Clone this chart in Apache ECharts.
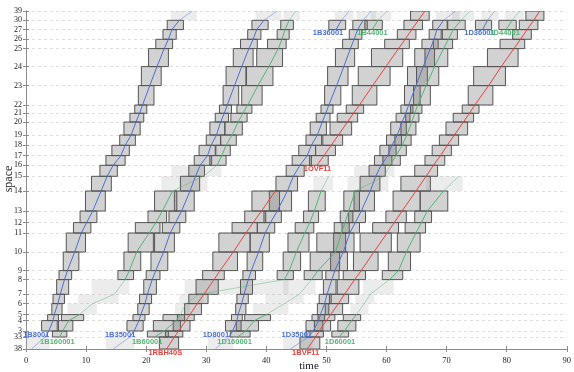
<!DOCTYPE html>
<html>
<head>
<meta charset="utf-8">
<title>Blocking time diagram</title>
<script src="https://cdn.jsdelivr.net/npm/echarts@6.0.0/dist/echarts.min.js"></script>
<style>
  html, body { margin: 0; padding: 0; background: #fff; }
  #chart { width: 574px; height: 372px; }
</style>
</head>
<body>
<div id="chart"></div>
<script>
// stations bottom to top, and where they sit on the space axis
const stations = ['38', '33', '3', '4', '5', '6', '7', '8', '9', '10', '11', '12', '13', '14', '15',
  '16', '17', '18', '19', '20', '21', '22', '23', '24', '25', '26', '27', '30', '39'];
const stationPos = [0, 12, 18, 28.4, 34.4, 45.4, 54.7, 69.4, 78.4, 97, 116, 126.4, 138, 158, 172.7,
  183.7, 193.4, 203.7, 214, 227, 235.7, 244, 263.4, 282.4, 300.4, 309.7, 319.4, 328.7, 338];

// passing times at each station, starting from the train's first station
const t1B8001 = [0.9, 3.2, 3.8, 4.5, 4.7, 5.3, 5.7, 6.4, 6.9, 8.1, 9.2, 10.1, 11.1, 12.5, 13.5,
  14.5, 15.8, 16.5, 17.5, 18.3, 18.9, 19.4, 20.6, 21.8, 23.0, 23.7, 24.3, 25.5, 27.7];
const t1B35001 = [14.5, 17.3, 18.0, 18.8, 19.1, 19.8, 20.2, 21.0, 21.6, 22.9, 24.0, 24.9, 25.9, 27.3, 28.2,
  29.0, 30.2, 30.8, 31.7, 32.4, 33.0, 33.5, 34.7, 35.9, 37.1, 37.8, 38.4, 39.6, 41.8];
const t1D8001 = [31.5, 33.8, 34.4, 35.1, 35.3, 35.9, 36.3, 37.0, 37.5, 38.7, 39.8, 40.7, 41.8, 43.5, 44.5,
  45.6, 46.8, 47.5, 48.5, 49.3, 49.9, 50.4, 51.7, 52.9, 54.0, 54.6, 55.2, 56.1, 57.5];
const t1D35001 = [44.0, 47.0, 47.8, 48.7, 49.0, 49.7, 50.1, 50.9, 51.4, 52.8, 53.9, 54.8, 55.8, 57.3, 58.2,
  59.1, 60.2, 60.9, 61.8, 62.6, 63.2, 63.7, 64.9, 66.1, 67.3, 67.9, 68.4, 69.5, 71.5];
const t1B160001 = [5.6, 6.1, 7.1, 8.9, 11.1, 14.7, 16.5, 17.2, 18.4, 20.5, 21.6, 22.7, 24.4, 29.5,
  31.8, 32.6, 33.3, 34.3, 35.3, 36.1, 36.9, 38.6, 40.4, 42.0, 42.6, 43.1, 43.8, 44.9];
const t1B60001 = [21.4, 23.0, 25.0, 25.7, 26.6, 28.8, 43.0, 43.8, 45.0, 46.4, 47.2, 48.0, 49.1, 50.4];
const t1D160001 = [35.2, 36.6, 38.0, 40.0, 43.0, 45.5, 47.5, 48.6, 51.5, 52.5, 53.1, 53.7, 54.8, 59.6,
  60.6, 61.6, 62.6, 63.4, 64.2, 64.7, 65.2, 66.6, 68.0, 69.5, 70.3, 71.1, 72.4, 73.9];
const t1D60001 = [52.1, 53.0, 54.2, 55.0, 56.3, 57.3, 60.5, 62.0, 63.3, 64.9, 65.8, 66.8, 69.5, 72.0];
const t1RBH40S = [23.4, 24.7, 25.4, 26.6, 27.3, 28.5, 29.6, 31.3, 32.3, 34.5, 36.6, 37.8, 39.2, 41.5];
const t1OVF11 = [48.4, 49.6, 50.8, 52.0, 53.5, 54.5, 55.5, 57.7, 59.9, 62.0, 63.1, 64.2, 65.3, 66.4];
const t1BVF11 = [46.8, 48.2, 48.8, 50.0, 50.7, 52.0, 53.0, 54.7, 55.8, 57.9, 60.1, 61.3, 62.6, 64.9, 66.6,
  67.8, 69.0, 70.1, 71.3, 72.8, 73.8, 74.7, 77.0, 79.1, 81.2, 82.3, 83.4, 84.5, 85.5];
const t1B36001 = [51.6, 52.5, 53.8];
const t1B44001 = [57.6, 58.6, 60.1];
const t1D36001 = [76.0, 76.8, 78.0];
const t1D44001 = [79.9, 80.9, 82.2];

const trainKinds = ['blue', 'blue', 'blue', 'blue', 'green', 'green', 'green', 'green',
  'red', 'red', 'red', 'blue', 'green', 'blue', 'green'];
const trainFirst = ['38', '38', '38', '38', '33', '33', '33', '33', '38', '16', '38', '27', '27', '27', '27'];
const trainTimes = [t1B8001, t1B35001, t1D8001, t1D35001, t1B160001, t1B60001, t1D160001, t1D60001,
  t1RBH40S, t1OVF11, t1BVF11, t1B36001, t1B44001, t1D36001, t1D44001];

// train name labels: right edge time and space position
const labelNames = ['1B8001', '1B160001', '1B35001', '1B60001', '1RBH40S', '1D8001', '1D160001',
  '1D35001', '1D60001', '1BVF11', '1OVF11', '1B36001', '1B44001', '1D36001', '1D44001'];
const labelKinds = ['blue', 'green', 'blue', 'green', 'red', 'blue', 'green', 'blue', 'green', 'red',
  'red', 'blue', 'green', 'blue', 'green'];
const labelTimes = [3.9, 8.1, 18.2, 22.7, 26.0, 33.8, 37.6, 47.6, 54.8, 48.8, 50.8, 52.8, 60.2, 78.0, 82.2];
const labelPos = [13.7, 6.7, 13.7, 6.7, -4, 13.7, 6.7, 13.7, 6.7, -4, 179.7, 315.7, 315.7, 315.7, 315.7];

const kinds = ['blue', 'green', 'red'];
const kindColor = ['#4a6fce', '#52b574', '#e4433f'];
// blocks (named by their lower station) drawn as light, unsignalled sections
const lightFrom = { blue: ['38', '30'], green: ['5', '6', '7', '14', '15', '30'], red: [] };
// blocks with no occupation box at all
const noBox = { blue: ['33'], green: [], red: [] };
const setupTime = 0.2, clearTime = 0.7, firstLead = 1.0;

const rectsDark = [];
const rectsLight = [];
const segs = [];
trainTimes.forEach((t, k) => {
  const kind = trainKinds[k];
  const s0 = stations.indexOf(trainFirst[k]);
  for (let i = 0; i + 1 < t.length; i++) {
    const lo = s0 + i;
    const light = lightFrom[kind].includes(stations[lo]) ? 1 : 0;
    segs.push([t[i], stationPos[lo], t[i + 1], stationPos[lo + 1], kinds.indexOf(kind), light]);
    if (noBox[kind].includes(stations[lo])) continue;
    // occupation starts one block ahead, unless the train comes out of an unsignalled part
    const prevOpen = i > 0 && !lightFrom[kind].includes(stations[lo - 1]) && !noBox[kind].includes(stations[lo - 1]);
    const begin = (prevOpen || light ? (i > 0 ? t[i - 1] : t[i] - firstLead) : t[i] - firstLead) - setupTime;
    const end = t[i + 1] + clearTime;
    (light ? rectsLight : rectsDark).push([begin, end, stationPos[lo], stationPos[lo + 1]]);
  }
});
const labels = labelNames.map((n, i) => [labelTimes[i], labelPos[i], kinds.indexOf(labelKinds[i])]);

function stationName(v) {
  let best = 0;
  stationPos.forEach((p, i) => { if (Math.abs(p - v) < Math.abs(stationPos[best] - v)) best = i; });
  return stations[best];
}

function rectRenderer(light) {
  return (params, api) => {
    const a = api.coord([api.value(0), api.value(2)]);
    const b = api.coord([api.value(1), api.value(3)]);
    return {
      type: 'rect',
      shape: { x: a[0], y: b[1], width: b[0] - a[0], height: a[1] - b[1] },
      style: light
        ? { fill: 'rgba(160,160,160,0.2)' }
        : { fill: 'rgba(105,105,105,0.3)', stroke: '#555', lineWidth: 1 }
    };
  };
}

const axisGray = '#8c8c8c';
const serif = '"Liberation Serif", "DejaVu Serif", serif';

const chart = echarts.init(document.getElementById('chart'));
chart.setOption({
  animation: false,
  grid: { left: 26, right: 5, top: 11, bottom: 23 },
  xAxis: [
    {
      type: 'value', min: 0, max: 90, interval: 10, position: 'bottom',
      axisLine: { lineStyle: { color: axisGray } },
      axisTick: { inside: true, length: 3, lineStyle: { color: axisGray } },
      axisLabel: { fontFamily: serif, fontSize: 8.5, color: '#222', margin: 7 },
      splitLine: { show: false }
    },
    {
      type: 'value', min: 0, max: 90, interval: 10, position: 'top',
      axisLine: { lineStyle: { color: axisGray } },
      axisTick: { inside: true, length: 3, lineStyle: { color: axisGray } },
      axisLabel: { show: false },
      splitLine: { show: false }
    }
  ],
  yAxis: [
    {
      type: 'value', min: 0, max: 338, position: 'left',
      axisLine: { show: true, lineStyle: { color: axisGray } },
      axisTick: { show: true, inside: true, length: 3, customValues: stationPos, lineStyle: { color: axisGray } },
      axisLabel: { customValues: stationPos, formatter: stationName, fontFamily: serif, fontSize: 8, color: '#1a1a1a', margin: 4 },
      splitLine: { show: true, lineStyle: { color: '#d6d6d6', type: [3, 3], width: 0.8 } }
    },
    {
      type: 'value', min: 0, max: 338, position: 'right',
      axisLine: { show: true, lineStyle: { color: axisGray } },
      axisTick: { show: true, inside: true, length: 3, customValues: stationPos, lineStyle: { color: axisGray } },
      axisLabel: { show: false },
      splitLine: { show: false }
    }
  ],
  graphic: [
    { type: 'text', x: 309, y: 366, style: { text: 'time', font: '11px ' + serif, fill: '#222', align: 'center', verticalAlign: 'middle' } },
    { type: 'text', x: 9, y: 179, rotation: Math.PI / 2, style: { text: 'space', font: '12px ' + serif, fill: '#222', align: 'center', verticalAlign: 'middle' } }
  ],
  series: [
    {
      type: 'custom', name: 'light blocks', clip: true,
      data: rectsLight, encode: { x: [0, 1], y: [2, 3] },
      renderItem: rectRenderer(true)
    },
    {
      type: 'custom', name: 'blocks', clip: true,
      data: rectsDark, encode: { x: [0, 1], y: [2, 3] },
      renderItem: rectRenderer(false)
    },
    {
      type: 'custom', name: 'trains', clip: true,
      data: segs, encode: { x: [0, 2], y: [1, 3] },
      renderItem: (params, api) => {
        const a = api.coord([api.value(0), api.value(1)]);
        const b = api.coord([api.value(2), api.value(3)]);
        return {
          type: 'line',
          shape: { x1: a[0], y1: a[1], x2: b[0], y2: b[1] },
          style: { stroke: kindColor[api.value(4)], lineWidth: 1, opacity: api.value(5) ? 0.45 : 1 }
        };
      }
    },
    {
      type: 'custom', name: 'labels', clip: false,
      data: labels, encode: { x: 0, y: 1 },
      renderItem: (params, api) => {
        const p = api.coord([api.value(0), api.value(1)]);
        return {
          type: 'text', x: p[0], y: p[1],
          style: {
            text: labelNames[params.dataIndex], fill: kindColor[api.value(2)],
            font: 'bold 7.5px "Liberation Sans", Arial, sans-serif', align: 'right', verticalAlign: 'middle'
          }
        };
      }
    }
  ]
});
</script>
</body>
</html>
